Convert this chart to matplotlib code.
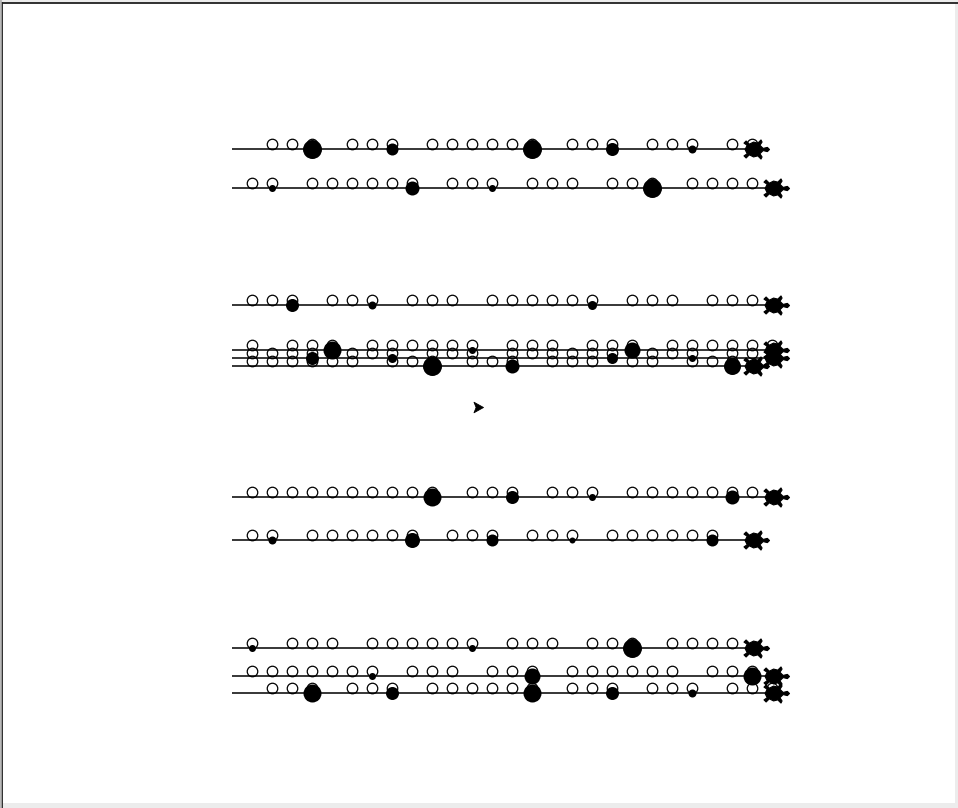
import numpy as np
import matplotlib
matplotlib.use('Agg')
import matplotlib.pyplot as plt
from matplotlib.path import Path
from matplotlib.patches import Rectangle

# canvas coords (pixels, y down)
row_y = [149, 188, 305, 350, 358, 366, 497, 540, 648, 676, 693]
row_end = [752, 772, 772, 772, 772, 752, 772, 752, 752, 772, 772]
line_start = 232

circle_x = [
    [272, 292, 312, 352, 372, 392, 432, 452, 472, 492, 512, 532, 572, 592, 612, 652, 672, 692, 732, 752],
    [252, 272, 312, 332, 352, 372, 392, 412, 452, 472, 492, 532, 552, 572, 612, 632, 652, 692, 712, 732, 752],
    [252, 272, 292, 332, 352, 372, 412, 432, 452, 492, 512, 532, 552, 572, 592, 632, 652, 672, 712, 732, 752],
    [252, 292, 312, 332, 372, 392, 412, 432, 452, 472, 512, 532, 552, 592, 612, 632, 672, 692, 712, 732, 752, 772],
    [252, 272, 292, 312, 352, 372, 392, 432, 452, 472, 512, 532, 552, 572, 592, 612, 652, 672, 692, 732, 752],
    [252, 272, 292, 312, 332, 352, 392, 412, 432, 472, 492, 512, 552, 572, 592, 632, 652, 692, 712, 732],
    [252, 272, 292, 312, 332, 352, 372, 392, 412, 432, 472, 492, 512, 552, 572, 592, 632, 652, 672, 692, 712, 732, 752],
    [252, 272, 312, 332, 352, 372, 392, 412, 452, 472, 492, 532, 552, 572, 612, 632, 652, 672, 692, 712],
    [252, 292, 312, 332, 372, 392, 412, 432, 452, 472, 512, 532, 552, 592, 612, 632, 672, 692, 712, 732],
    [252, 272, 292, 312, 332, 352, 372, 412, 432, 452, 492, 512, 532, 572, 592, 612, 632, 652, 672, 712, 732, 752],
    [272, 292, 312, 352, 372, 392, 432, 452, 472, 492, 512, 532, 572, 592, 612, 652, 672, 692, 732, 752, 772],
]

dot_x = [
    [312, 392, 532, 612, 692],
    [272, 412, 492, 652],
    [292, 372, 592],
    [332, 472, 632],
    [312, 392, 612, 692],
    [432, 512, 732],
    [432, 512, 592, 732],
    [272, 412, 492, 572, 712],
    [252, 472, 632],
    [372, 532, 752],
    [312, 392, 532, 612, 692],
]
dot_d = [
    [19, 12, 19, 13, 8],
    [7, 14, 7, 19],
    [13, 8, 9],
    [18, 7, 16],
    [13, 9, 11, 7],
    [19, 14, 17],
    [18, 13, 7, 14],
    [8, 15, 12, 6, 12],
    [7, 7, 19],
    [7, 16, 18],
    [18, 13, 18, 13, 8],
]

arrow_pos = (483, 407)

PT = 0.72  # px -> pt at dpi 100

# turtle / classic shapes, rotated to heading east
turtle_shape = [(0, 16), (-2, 14), (-1, 10), (-4, 7), (-7, 9), (-9, 8), (-6, 5), (-7, 1), (-5, -3), (-8, -6),
                (-6, -8), (-4, -5), (0, -7), (4, -5), (6, -8), (8, -6), (5, -3), (7, 1), (6, 5), (9, 8), (7, 9),
                (4, 7), (1, 10), (2, 14)]
turtle_marker = Path([(y, -x) for x, y in turtle_shape] + [(16, 0)], closed=True)
arrow_shape = [(0, 0), (-5, -9), (0, -7), (5, -9)]
arrow_marker = Path([(y, -x) for x, y in arrow_shape] + [(0, 0)], closed=True)

fig = plt.figure(figsize=(9.58, 8.08), dpi=100, facecolor='#e8e8e8')
ax = fig.add_axes([0, 0, 1, 1])
ax.set_xlim(0, 958)
ax.set_ylim(808, 0)
ax.axis('off')

# window frame
ax.add_patch(Rectangle((0, 0), 958, 808, facecolor='#ececec', edgecolor='none', zorder=0))
ax.add_patch(Rectangle((3, 3), 952, 800, facecolor='white', edgecolor='none', zorder=0))
ax.plot([2.5, 2.5], [2.5, 808], color='#202020', lw=1.3, zorder=1)
ax.plot([2.5, 958], [2.5, 2.5], color='#202020', lw=1.3, zorder=1)
ax.plot([0.8, 0.8], [0, 808], color='#b0b0b0', lw=1.2, zorder=1)

for i in range(len(row_y)):
    y = row_y[i]
    ax.plot([line_start, row_end[i]], [y, y], color='black', lw=1.1, zorder=2, solid_capstyle='butt')
    cx = np.array(circle_x[i])
    ax.plot(cx, np.full(len(cx), y - 5), 'o', ms=10.5 * PT, mfc='none', mec='black', mew=0.9, zorder=3)
    for x, d in zip(dot_x[i], dot_d[i]):
        ax.plot(x, y, 'o', ms=d * PT, mfc='black', mec='black', mew=0, zorder=4)
    ax.plot(row_end[i], y, marker=turtle_marker, ms=34 * PT, mfc='black', mec='black', mew=0.8, zorder=5)

ax.plot(arrow_pos[0], arrow_pos[1], marker=arrow_marker, ms=19 * PT, mfc='black', mec='black', mew=0.6, zorder=5)

plt.savefig('out.png', dpi=100, facecolor=fig.get_facecolor())
